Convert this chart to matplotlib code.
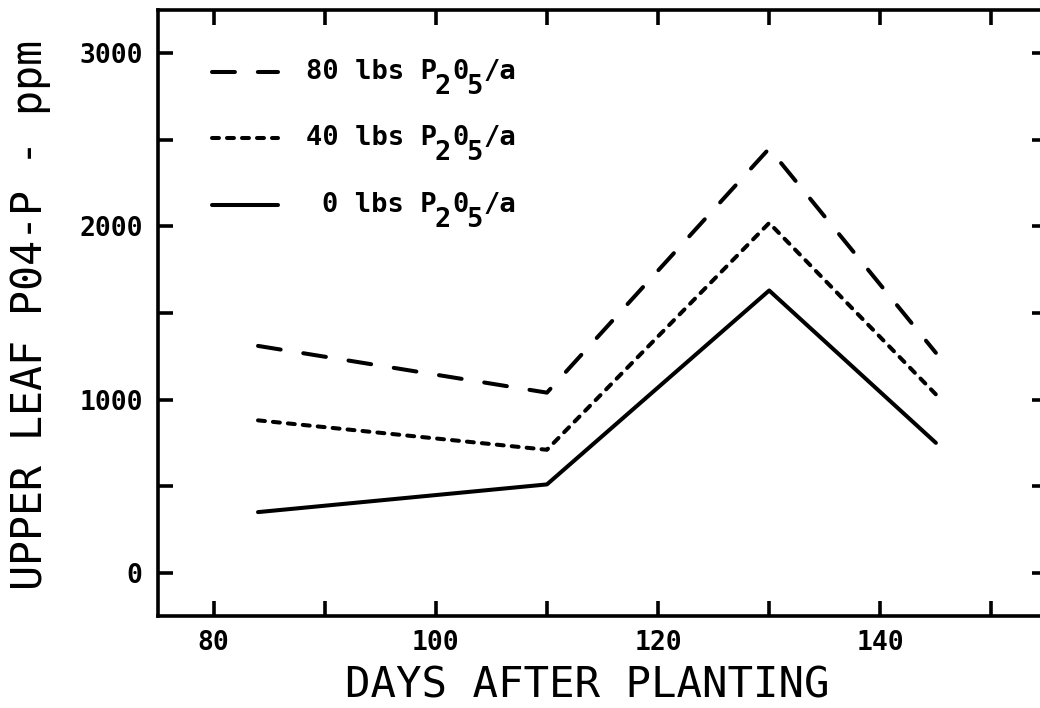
import matplotlib
matplotlib.use("Agg")
import matplotlib.pyplot as plt
from matplotlib.lines import Line2D

# ---- data ----
days = [84, 110, 130, 145]
p0 = [350, 510, 1630, 750]
p40 = [880, 710, 2020, 1030]
p80 = [1310, 1040, 2450, 1270]

x_ticks = [80, 90, 100, 110, 120, 130, 140, 150]
x_labels = ["80", "", "100", "", "120", "", "140", ""]
y_ticks = [0, 500, 1000, 1500, 2000, 2500, 3000]
y_labels = ["0", "", "1000", "", "2000", "", "3000"]

legend_nums = ["80", "40", "0"]

plt.rcParams['lines.scale_dashes'] = False
W, H = 1040, 708
fig = plt.figure(figsize=(W / 100, H / 100), dpi=100)
ax = fig.add_axes([158 / W, (H - 616) / H, (1047 - 158) / W, (616 - 10) / H])

lw = 2.9
dash_style = (0, (16.5, 16.5))
dot_style = (0, (5.0, 5.8))
ax.plot(days, p80, color="black", lw=lw, linestyle=dash_style, dash_capstyle="round")
ax.plot(days, p40, color="black", lw=lw, linestyle=dot_style, dash_capstyle="round")
ax.plot(days, p0, color="black", lw=lw, linestyle="-", solid_capstyle="round")

ax.set_xlim(75, 155)
ax.set_ylim(-250, 3250)

mono = "DejaVu Sans Mono"
ax.set_xticks(x_ticks)
ax.set_xticklabels(x_labels, family=mono, weight="bold", fontsize=19)
ax.set_yticks(y_ticks)
ax.set_yticklabels(y_labels, family=mono, weight="bold", fontsize=19)
ax.tick_params(direction="in", length=11, width=2.6, top=True, right=True, pad=10)
ax.tick_params(axis="y", pad=11)
for s in ax.spines.values():
    s.set_linewidth(2.6)

fig.text(587 / W, 1 - 685 / H, "DAYS AFTER PLANTING", family=mono, fontsize=30.5,
         ha="center", va="center")
fig.text(30 / W, 1 - 315 / H, "UPPER LEAF P04-P - ppm", family=mono, fontsize=30,
         ha="center", va="center", rotation=90)

# ---- legend ----
styles = [dash_style, dot_style, "-"]
rows_y = [72, 138, 205]
for num, st, ypx in zip(legend_nums, styles, rows_y):
    yf = 1 - ypx / H
    fig.add_artist(Line2D([212 / W, 278 / W], [yf, yf], color="black", lw=lw,
                          linestyle=st, dash_capstyle="round", solid_capstyle="round"))
    kw = dict(family=mono, weight="bold", fontsize=19.5)
    t = fig.text(437 / W, yf, f"{num} lbs P", ha="right", va="center", **kw)
    pieces = [("2", -1.5, -11), ("0", 0.5, 11), ("5", -1.5, -11), ("/a", 0.5, 11)]
    prev = t
    for s, dx, dy in pieces:
        prev = ax.annotate(s, xy=(1, 0), xycoords=prev, xytext=(dx, dy),
                           textcoords="offset points", ha="left", va="bottom",
                           annotation_clip=False, **kw)

fig.savefig("out.png", dpi=100)
